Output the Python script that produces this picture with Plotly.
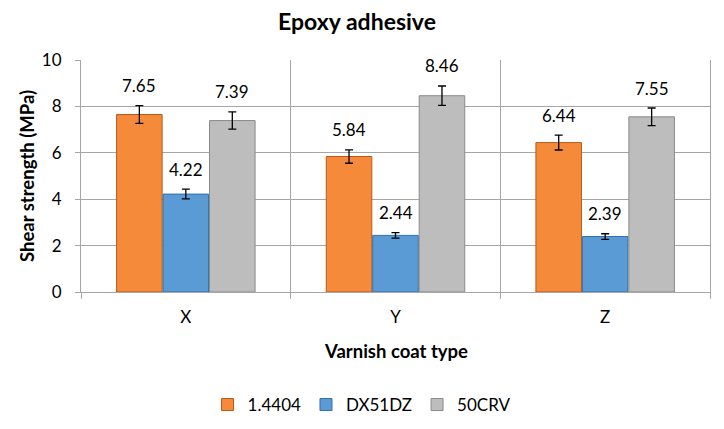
import plotly.graph_objects as go

categories = ["X", "Y", "Z"]
series_names = ["1.4404", "DX51DZ", "50CRV"]
vals_14404 = [7.65, 5.84, 6.44]
vals_dx51dz = [4.22, 2.44, 2.39]
vals_50crv = [7.39, 8.46, 7.55]
err_14404 = [0.38, 0.29, 0.32]
err_dx51dz = [0.21, 0.12, 0.12]
err_50crv = [0.37, 0.42, 0.38]
y_ticks = [0, 2, 4, 6, 8, 10]

colors = ["#F58A3B", "#5B9BD5", "#BDBDBD"]
edges = ["#B85A16", "#2F6EA8", "#8A8A8A"]

FONT = "Lato, 'Open Sans', sans-serif"
FS = 17
FT = 18.5

W, H = 716, 421  # page body has an 8px margin

fig = go.Figure()
all_vals = [vals_14404, vals_dx51dz, vals_50crv]
all_errs = [err_14404, err_dx51dz, err_50crv]
for name, v, e, c, ec in zip(series_names, all_vals, all_errs, colors, edges):
    fig.add_trace(go.Bar(
        x=categories, y=v, name=name,
        marker=dict(color=c, line=dict(color=ec, width=1)),
        error_y=dict(type="data", array=e, visible=True, color="black", thickness=1.3, width=4),
        offsetgroup=name,
    ))

fig.update_layout(
    width=W, height=H,
    paper_bgcolor="white", plot_bgcolor="white",
    margin=dict(l=73, r=14, t=52, b=137, autoexpand=False),
    barmode="group", bargap=0.335, bargroupgap=0.02,
    font=dict(family=FONT, size=FS, color="black"),
    title=dict(text="<b>Epoxy adhesive</b>", x=349 / W, xanchor="center", xref="container",
               y=1 - 14 / H, yanchor="middle",
               font=dict(family=FONT, size=23, color="black")),
    showlegend=True,
    legend=dict(orientation="h", x=0.446, xanchor="center", y=(292 - 405) / 232, yanchor="middle",
                font=dict(family=FONT, size=FS), itemwidth=30, traceorder="normal"),
    xaxis=dict(
        type="category", tickson="boundaries", showgrid=True, gridcolor="#A6A6A6", gridwidth=1,
        ticks="outside", ticklen=6, tickcolor="#A6A6A6", showline=True, linecolor="#A6A6A6",
        tickfont=dict(family=FONT, size=FS), ticklabelstandoff=10, automargin=False,
    ),
    yaxis=dict(
        range=[0, 10], tickvals=y_ticks, showgrid=True, gridcolor="#A6A6A6", gridwidth=1,
        ticks="outside", ticklen=5, tickcolor="#A6A6A6", showline=True, linecolor="#A6A6A6",
        tickfont=dict(family=FONT, size=FS), zeroline=False, mirror=True,
        ticklabelstandoff=10, automargin=False,
    ),
)

# axis titles
fig.add_annotation(text="<b>Varnish coat type</b>", xref="paper", yref="paper",
                   x=0.5, y=(292 - 351) / 232, xanchor="center", yanchor="middle",
                   showarrow=False, font=dict(family=FONT, size=FT, color="black"))
fig.add_annotation(text="<b>Shear strength (MPa)</b>", xref="paper", yref="paper",
                   x=(27 - 81) / 629, y=0.5, xanchor="center", yanchor="middle", textangle=-90,
                   showarrow=False, font=dict(family=FONT, size=FT, color="black"))

# data labels above error bars
n = len(series_names)
for si, (v, e) in enumerate(zip(all_vals, all_errs)):
    for ci, cat in enumerate(categories):
        fig.add_annotation(
            x=ci + (si - (n - 1) / 2) * 0.2217, y=v[ci] + e[ci], xref="x", yref="y",
            text=f"{v[ci]:.2f}", showarrow=False, yanchor="middle", yshift=20,
            font=dict(family=FONT, size=FS, color="black"),
        )

fig.write_html("out.html")
